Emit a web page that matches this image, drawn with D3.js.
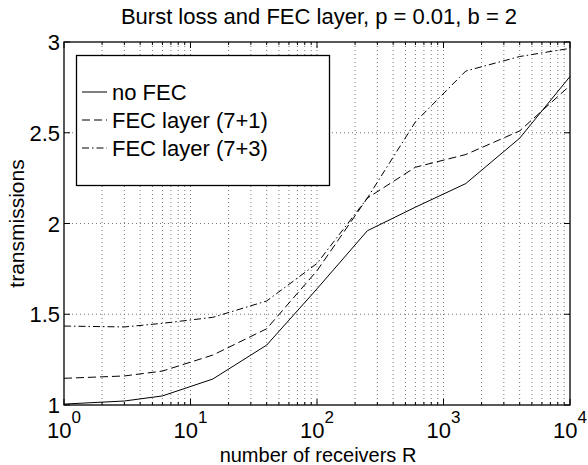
<!DOCTYPE html>
<html><head><meta charset="utf-8">
<script src="https://cdn.jsdelivr.net/npm/d3@7"></script>
<style>body{margin:0;background:#fff}svg{display:block}text{font-family:"Liberation Sans",Arial,sans-serif;fill:#000}</style>
</head><body>
<svg id="c" width="588" height="465"></svg>
<script>
const receivers = [1, 3, 6, 15, 40, 100, 250, 600, 1500, 4000, 10000];
const noFEC   = [1.005, 1.022, 1.05, 1.143, 1.33, 1.64, 1.96, 2.09, 2.22, 2.47, 2.81];
const fec71   = [1.147, 1.16, 1.187, 1.275, 1.42, 1.74, 2.14, 2.31, 2.38, 2.51, 2.76];
const fec73   = [1.435, 1.43, 1.45, 1.483, 1.573, 1.78, 2.14, 2.56, 2.84, 2.92, 2.965];
const seriesNames = ["no FEC", "FEC layer (7+1)", "FEC layer (7+3)"];
const xTickExp = [0, 1, 2, 3, 4];
const yTicks = [1, 1.5, 2, 2.5, 3];
const yTickLabels = ["1", "1.5", "2", "2.5", "3"];
const titleText = "Burst loss and FEC layer, p = 0.01, b = 2";
const xLabelText = "number of receivers R";
const yLabelText = "transmissions";

const svg = d3.select("#c");
const L = 64, R = 570, T = 42, B = 405;
const x = d3.scaleLog().domain([1, 1e4]).range([L, R]);
const y = d3.scaleLinear().domain([1, 3]).range([B, T]);

svg.append("rect").attr("width", 588).attr("height", 465).attr("fill", "#fff");

const xAll = [];
for (let e = 0; e < 4; e++) for (let m = 1; m < 10; m++) xAll.push(m * Math.pow(10, e));
xAll.push(1e4);

const g = svg.append("g");
g.selectAll(".vg").data(xAll.filter(v => v > 1 && v < 1e4)).enter().append("line")
  .attr("x1", d => x(d)).attr("x2", d => x(d)).attr("y1", T).attr("y2", B)
  .attr("stroke", "#777").attr("stroke-width", 1).attr("stroke-dasharray", "1,3");
g.selectAll(".hg").data(yTicks.filter(v => v > 1 && v < 3)).enter().append("line")
  .attr("x1", L).attr("x2", R).attr("y1", d => y(d)).attr("y2", d => y(d))
  .attr("stroke", "#777").attr("stroke-width", 1).attr("stroke-dasharray", "1,3");

const isMajor = v => Math.abs(Math.log10(v) - Math.round(Math.log10(v))) < 1e-9;
xAll.forEach(v => {
  const len = isMajor(v) ? 6 : 3;
  g.append("line").attr("x1", x(v)).attr("x2", x(v)).attr("y1", B).attr("y2", B - len).attr("stroke", "#000");
  g.append("line").attr("x1", x(v)).attr("x2", x(v)).attr("y1", T).attr("y2", T + len).attr("stroke", "#000");
});
yTicks.forEach(v => {
  g.append("line").attr("x1", L).attr("x2", L + 6).attr("y1", y(v)).attr("y2", y(v)).attr("stroke", "#000");
  g.append("line").attr("x1", R).attr("x2", R - 6).attr("y1", y(v)).attr("y2", y(v)).attr("stroke", "#000");
});

const dashes = [null, "8,4", "7,3,1.5,3"];
[noFEC, fec71, fec73].forEach((vals, i) => {
  const line = d3.line().x((d, j) => x(receivers[j])).y(d => y(d));
  g.append("path").attr("d", line(vals)).attr("fill", "none").attr("stroke", "#000")
    .attr("stroke-width", 1).attr("stroke-dasharray", dashes[i]);
});

g.append("rect").attr("x", L).attr("y", T).attr("width", R - L).attr("height", B - T)
  .attr("fill", "none").attr("stroke", "#000").attr("stroke-width", 1.3);

yTicks.forEach((v, i) => {
  svg.append("text").attr("x", L - 4).attr("y", y(v) + 8).attr("text-anchor", "end")
    .attr("font-size", 22).text(yTickLabels[i]);
});
xTickExp.forEach(e => {
  const cx = x(Math.pow(10, e));
  svg.append("text").attr("x", cx + 7.5).attr("y", 438).attr("text-anchor", "end").attr("font-size", 22).text("10");
  svg.append("text").attr("x", cx + 7.5).attr("y", 423).attr("text-anchor", "start").attr("font-size", 17).text(String(e));
});

svg.append("text").attr("x", 318).attr("y", 462).attr("text-anchor", "middle").attr("font-size", 20).text(xLabelText);
svg.append("text").attr("transform", "translate(24," + ((T + B) / 2) + ") rotate(-90)")
  .attr("text-anchor", "middle").attr("font-size", 21).text(yLabelText);
svg.append("text").attr("x", 319).attr("y", 24).attr("text-anchor", "middle").attr("font-size", 22).text(titleText);

const lg = svg.append("g");
lg.append("rect").attr("x", 76.5).attr("y", 55.5).attr("width", 253).attr("height", 130)
  .attr("fill", "#fff").attr("stroke", "#000").attr("stroke-width", 1.3);
const rows = [92, 120, 148];
seriesNames.forEach((n, i) => {
  lg.append("line").attr("x1", 82).attr("x2", 107).attr("y1", rows[i]).attr("y2", rows[i])
    .attr("stroke", "#000").attr("stroke-dasharray", dashes[i]);
  lg.append("text").attr("x", 112).attr("y", rows[i] + 8).attr("font-size", 22).text(n);
});
</script>
</body></html>
